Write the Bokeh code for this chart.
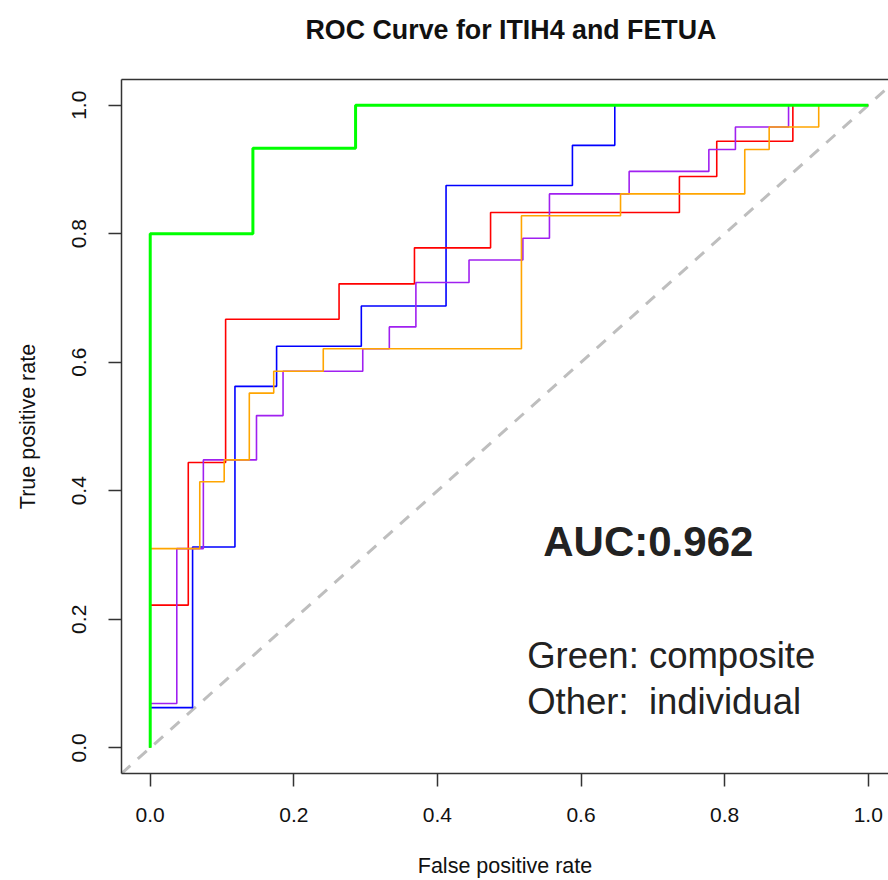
from bokeh.plotting import figure
from bokeh.models import LinearAxis, FixedTicker, Label, Title, Range1d, NumeralTickFormatter
from bokeh.embed import file_html
from bokeh.resources import INLINE

# ---- data (ROC curve vertices) ----
ticks = [0.0, 0.2, 0.4, 0.6, 0.8, 1.0]

green_fpr = [0, 0, 0.143, 0.143, 0.286, 0.286, 1]
green_tpr = [0, 0.8, 0.8, 0.933, 0.933, 1, 1]

blue_fpr = [0, 0, 0.059, 0.059, 0.118, 0.118, 0.176, 0.176, 0.294, 0.294,
            0.412, 0.412, 0.588, 0.588, 0.647, 0.647, 1]
blue_tpr = [0, 0.0625, 0.0625, 0.3125, 0.3125, 0.5625, 0.5625, 0.625, 0.625, 0.6875,
            0.6875, 0.875, 0.875, 0.9375, 0.9375, 1, 1]

red_fpr = [0, 0, 0.053, 0.053, 0.105, 0.105, 0.263, 0.263, 0.368, 0.368,
           0.474, 0.474, 0.737, 0.737, 0.789, 0.789, 0.895, 0.895, 1]
red_tpr = [0, 0.222, 0.222, 0.444, 0.444, 0.667, 0.667, 0.722, 0.722, 0.778,
           0.778, 0.833, 0.833, 0.889, 0.889, 0.944, 0.944, 1, 1]

purple_fpr = [0, 0, 0.037, 0.037, 0.074, 0.074, 0.148, 0.148, 0.185, 0.185,
              0.296, 0.296, 0.333, 0.333, 0.370, 0.370, 0.444, 0.444, 0.519, 0.519,
              0.556, 0.556, 0.667, 0.667, 0.778, 0.778, 0.815, 0.815, 0.889, 0.889, 1]
purple_tpr = [0, 0.069, 0.069, 0.310, 0.310, 0.448, 0.448, 0.517, 0.517, 0.586,
              0.586, 0.621, 0.621, 0.655, 0.655, 0.724, 0.724, 0.759, 0.759, 0.793,
              0.793, 0.862, 0.862, 0.897, 0.897, 0.931, 0.931, 0.966, 0.966, 1, 1]

orange_fpr = [0, 0, 0.069, 0.069, 0.103, 0.103, 0.138, 0.138, 0.172, 0.172,
              0.241, 0.241, 0.517, 0.517, 0.655, 0.655, 0.828, 0.828, 0.862, 0.862,
              0.931, 0.931, 1]
orange_tpr = [0, 0.310, 0.310, 0.414, 0.414, 0.448, 0.448, 0.552, 0.552, 0.586,
              0.586, 0.621, 0.621, 0.828, 0.828, 0.862, 0.862, 0.931, 0.931, 0.966,
              0.966, 1, 1]

diag = [-0.2, 1.2]

title_text = "ROC Curve for ITIH4 and FETUA"
auc_text = "AUC:0.962"
note1 = "Green: composite"
note2 = "Other:\u00a0 individual"

FONT = "Liberation Sans"
DARK = "#333333"

p = figure(width=888, height=880,
           x_range=Range1d(-0.04, 1.0282), y_range=Range1d(-0.04, 1.04),
           output_backend="svg", toolbar_location=None,
           min_border_left=121, min_border_right=0, min_border_top=79, min_border_bottom=107,
           x_axis_label="False positive rate", y_axis_label="True positive rate")
p.grid.visible = False
p.outline_line_color = None
p.background_fill_color = "white"
p.border_fill_color = "white"

xa = p.below[0]
ya = p.left[0]

# top border of the box (no ticks)
top_axis = LinearAxis(ticker=FixedTicker(ticks=[]), major_label_text_font_size="0px",
                      axis_line_color=DARK, axis_line_width=1.5,
                      major_tick_out=0, major_tick_in=0, major_label_standoff=0,
                      major_tick_line_color=None, minor_tick_line_color=None)
p.add_layout(top_axis, "above")

# blank spacer between the box and the title
spacer = Title(text=" ", standoff=20, text_font=FONT, text_font_size="10px", text_color="white")
p.add_layout(spacer, "above")

t = Title(text=title_text, align="left", offset=184, vertical_align="top", standoff=0,
          text_font=FONT, text_font_size="26.8px", text_font_style="bold", text_color="#111111")
p.add_layout(t, "above")

for ax in (xa, ya):
    ax.ticker = FixedTicker(ticks=ticks)
    ax.formatter = NumeralTickFormatter(format="0.0")
    ax.axis_line_color = DARK
    ax.axis_line_width = 1.5
    ax.major_tick_line_color = DARK
    ax.major_tick_line_width = 1.5
    ax.major_tick_out = 13
    ax.major_tick_in = 0
    ax.minor_tick_line_color = None
    ax.major_label_text_font = FONT
    ax.major_label_text_font_size = "21px"
    ax.major_label_text_color = "#111111"
    ax.axis_label_text_font = FONT
    ax.axis_label_text_font_size = "21.5px"
    ax.axis_label_text_font_style = "normal"
    ax.axis_label_text_color = "#111111"

xa.major_label_standoff = 21
xa.axis_label_standoff = 29
ya.major_label_standoff = 22
ya.major_label_orientation = "vertical"
ya.axis_label_standoff = 30

p.line(diag, diag, line_color="#BEBEBE", line_width=3, line_dash="12 10")
p.line(blue_fpr, blue_tpr, line_color="#0000FF", line_width=1.6)
p.line(red_fpr, red_tpr, line_color="#FF0000", line_width=1.6)
p.line(purple_fpr, purple_tpr, line_color="#A020F0", line_width=1.6)
p.line(orange_fpr, orange_tpr, line_color="#FFA500", line_width=1.6)
p.line(green_fpr, green_tpr, line_color="#00FF00", line_width=3)

p.add_layout(Label(x=0.5474, y=0.3214, text=auc_text, text_font=FONT, text_font_size="42px",
                   text_font_style="bold", text_color="#222222", text_baseline="alphabetic"))
p.add_layout(Label(x=0.525, y=0.143, text=note1, text_font=FONT, text_font_size="36.5px",
                   text_color="#222222", text_baseline="alphabetic"))
p.add_layout(Label(x=0.525, y=0.072, text=note2, text_font=FONT, text_font_size="36.5px",
                   text_color="#222222", text_baseline="alphabetic"))

open("out.html", "w").write(file_html(p, INLINE))
